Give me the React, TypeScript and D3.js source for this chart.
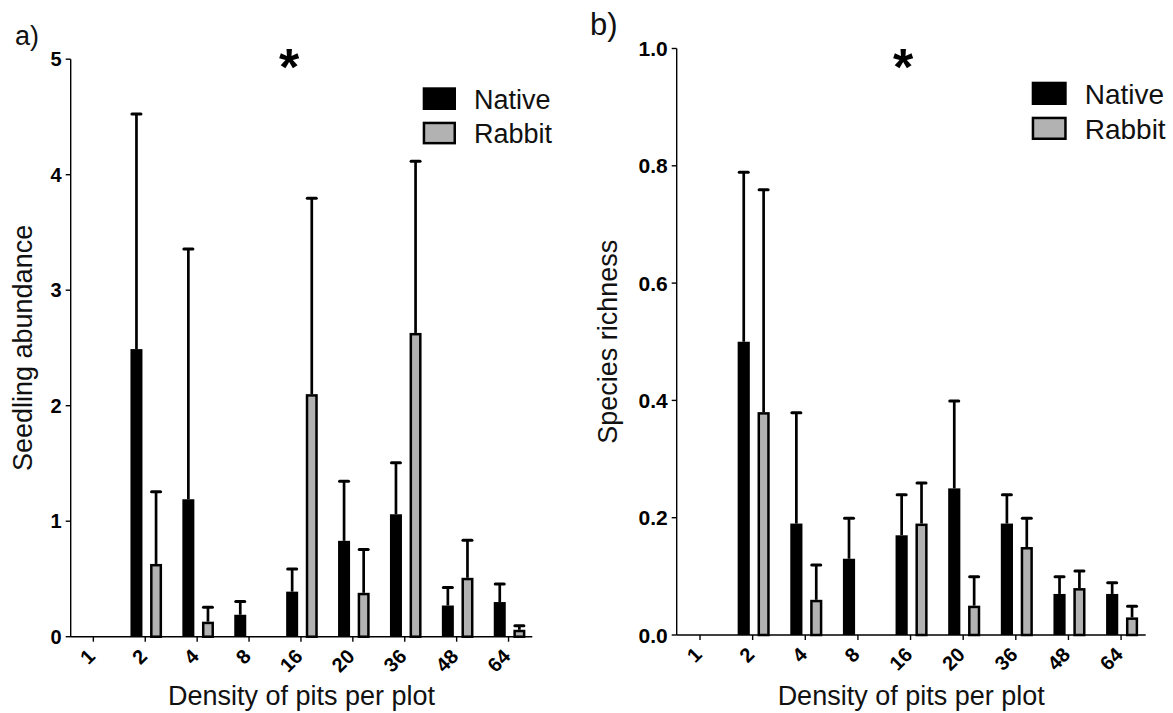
import React from "react";
import * as d3 from "d3";

// Pit density treatments (x categories)
const densities = ["1", "2", "4", "8", "16", "20", "36", "48", "64"];
const seriesNames = ["Native", "Rabbit"];

// a) Seedling abundance: means and upper error (SE)
const abundanceNative = [0, 2.49, 1.19, 0.19, 0.39, 0.83, 1.06, 0.27, 0.3];
const abundanceNativeErr = [0, 2.04, 2.17, 0.12, 0.2, 0.52, 0.45, 0.16, 0.16];
const abundanceRabbit = [0, 0.63, 0.13, 0, 2.1, 0.38, 2.63, 0.51, 0.06];
const abundanceRabbitErr = [0, 0.63, 0.13, 0, 1.7, 0.38, 1.49, 0.33, 0.04];
const abundanceTicks = [0, 1, 2, 3, 4, 5];

// b) Species richness: means and upper error (SE)
const richnessNative = [0, 0.5, 0.19, 0.13, 0.17, 0.25, 0.19, 0.07, 0.07];
const richnessNativeErr = [0, 0.29, 0.19, 0.07, 0.07, 0.15, 0.05, 0.03, 0.02];
const richnessRabbit = [0, 0.38, 0.06, 0, 0.19, 0.05, 0.15, 0.08, 0.03];
const richnessRabbitErr = [0, 0.38, 0.06, 0, 0.07, 0.05, 0.05, 0.03, 0.02];
const richnessTicks = [0, 0.2, 0.4, 0.6, 0.8, 1.0];

const FONT = "'Liberation Sans', Arial, Helvetica, sans-serif";
const GREY = "#b2b2b2";

type PanelProps = {
  tag: string;
  tagX: number;
  tagY: number;
  tagSize: number;
  yTitle: string;
  yTitleX: number;
  native: number[];
  nativeErr: number[];
  rabbit: number[];
  rabbitErr: number[];
  yMax: number;
  ticks: number[];
  fmt: (v: number) => string;
  plotTop: number;
  plotBottom: number;
  axisLeft: number;
  axisRight: number;
  bandRange: [number, number];
  tickSize: number;
  legendX: number;
  legendY: number;
  legendBoxW: number;
  legendBoxH: number;
  legendGap: number;
  legendSize: number;
  starX: number;
  starY: number;
};

function Panel(p: PanelProps) {
  const y = d3.scaleLinear().domain([0, p.yMax]).range([p.plotBottom, p.plotTop]);
  const x = d3.scaleBand<string>().domain(densities).range(p.bandRange).padding(0);
  const step = x.step();
  const inner = d3
    .scaleBand<string>()
    .domain(seriesNames)
    .range([-0.285 * step, 0.324 * step])
    .paddingInner(0.388)
    .paddingOuter(0);
  const bw = inner.bandwidth();
  const stroke = 2.5;
  const series = [
    { name: "Native", values: p.native, errs: p.nativeErr, fill: "#000" },
    { name: "Rabbit", values: p.rabbit, errs: p.rabbitErr, fill: GREY },
  ];
  const base = y(0);
  const titleCenter = (p.axisLeft + p.axisRight) / 2;

  return (
    <g fontFamily={FONT}>
      <text x={p.tagX} y={p.tagY} fontSize={p.tagSize} fill="#111">
        {p.tag}
      </text>

      {/* bars with upper error bars */}
      {series.map((s) =>
        densities.map((d, i) => {
          const v = s.values[i];
          if (!v) return null;
          const x0 = (x(d) as number) + step / 2 + (inner(s.name) as number);
          const cx = x0 + bw / 2;
          const top = y(v);
          const errTop = y(v + s.errs[i]);
          const isRabbit = s.name === "Rabbit";
          return (
            <g key={s.name + d}>
              {s.errs[i] > 0 && (
                <g stroke="#000">
                  <line x1={cx} x2={cx} y1={top} y2={errTop} strokeWidth={2.7} />
                  <line x1={cx - 4.5} x2={cx + 4.5} y1={errTop + 0.5} y2={errTop + 0.5} strokeWidth={3} strokeLinecap="round" />
                </g>
              )}
              {isRabbit ? (
                <rect
                  x={x0 + stroke / 2}
                  y={top + stroke / 2}
                  width={bw - stroke}
                  height={Math.max(0, base - top - stroke / 2)}
                  fill={s.fill}
                  stroke="#000"
                  strokeWidth={stroke}
                />
              ) : (
                <rect x={x0} y={top} width={bw} height={base - top} fill={s.fill} />
              )}
            </g>
          );
        })
      )}

      {/* y axis */}
      <line x1={p.axisLeft} x2={p.axisLeft} y1={p.plotTop} y2={base} stroke="#000" strokeWidth={1.4} />
      {p.ticks.map((t) => (
        <g key={"yt" + t} transform={`translate(${p.axisLeft},${y(t)})`}>
          <line x1={-5} x2={0} stroke="#000" strokeWidth={1.4} />
          <text x={-9} textAnchor="end" dominantBaseline="central" fontWeight="bold" fontSize={p.tickSize} fill="#000">
            {p.fmt(t)}
          </text>
        </g>
      ))}

      {/* x axis */}
      <line x1={p.axisLeft} x2={p.axisRight} y1={base} y2={base} stroke="#000" strokeWidth={1.4} />
      {densities.map((d) => {
        const cx = (x(d) as number) + step / 2;
        return (
          <g key={"xt" + d}>
            <line x1={cx} x2={cx} y1={base} y2={base + 5} stroke="#000" strokeWidth={1.4} />
            <text
              transform={`translate(${cx + 3},${base + 21}) rotate(-45)`}
              textAnchor="end"
              fontWeight="bold"
              fontSize={20}
              fill="#000"
            >
              {d}
            </text>
          </g>
        );
      })}

      <text x={titleCenter} y={705} textAnchor="middle" fontSize={27} fill="#111">
        Density of pits per plot
      </text>
      <text
        transform={`translate(${p.yTitleX},${(p.plotTop + base) / 2}) rotate(-90)`}
        textAnchor="middle"
        fontSize={27}
        fill="#111"
      >
        {p.yTitle}
      </text>

      {/* significance marker */}
      <text x={p.starX} y={p.starY} textAnchor="middle" fontWeight="bold" fontSize={52} fill="#000">
        *
      </text>

      {/* legend */}
      {seriesNames.map((n, i) => {
        const ly = p.legendY + i * p.legendGap;
        const rabbit = n === "Rabbit";
        return (
          <g key={"lg" + n}>
            {rabbit ? (
              <rect
                x={p.legendX + 1.25}
                y={ly + 1.25}
                width={p.legendBoxW - 2.5}
                height={p.legendBoxH - 2.5}
                fill={GREY}
                stroke="#000"
                strokeWidth={2.5}
              />
            ) : (
              <rect x={p.legendX} y={ly} width={p.legendBoxW} height={p.legendBoxH} fill="#000" />
            )}
            <text
              x={p.legendX + p.legendBoxW + 18}
              y={ly + p.legendBoxH - 1.5}
              fontSize={p.legendSize}
              fill="#111"
            >
              {n}
            </text>
          </g>
        );
      })}
    </g>
  );
}

export default function App() {
  return (
    <svg
      width={1173}
      height={713}
      viewBox="0 0 1173 713"
      style={{ position: "absolute", left: 0, top: 0, background: "#fff" }}
    >
      <rect width={1173} height={713} fill="#fff" />
      <Panel
        tag="a)"
        tagX={15}
        tagY={45}
        tagSize={27}
        yTitle="Seedling abundance"
        yTitleX={32}
        native={abundanceNative}
        nativeErr={abundanceNativeErr}
        rabbit={abundanceRabbit}
        rabbitErr={abundanceRabbitErr}
        yMax={5}
        ticks={abundanceTicks}
        fmt={d3.format("d")}
        plotTop={59.2}
        plotBottom={636.7}
        axisLeft={70.7}
        axisRight={532.3}
        bandRange={[67.4, 534.5]}
        tickSize={20}
        legendX={422.7}
        legendY={87.3}
        legendBoxW={33.3}
        legendBoxH={22.7}
        legendGap={34.4}
        legendSize={27}
        starX={289}
        starY={85}
      />
      <Panel
        tag="b)"
        tagX={590}
        tagY={35}
        tagSize={31}
        yTitle="Species richness"
        yTitleX={617}
        native={richnessNative}
        nativeErr={richnessNativeErr}
        rabbit={richnessRabbit}
        rabbitErr={richnessRabbitErr}
        yMax={1}
        ticks={richnessTicks}
        fmt={d3.format(".1f")}
        plotTop={48.5}
        plotBottom={635}
        axisLeft={676.7}
        axisRight={1145.7}
        bandRange={[673.7, 1147.4]}
        tickSize={21}
        legendX={1031.7}
        legendY={81.7}
        legendBoxW={35}
        legendBoxH={23.3}
        legendGap={35}
        legendSize={28}
        starX={903}
        starY={85}
      />
    </svg>
  );
}
